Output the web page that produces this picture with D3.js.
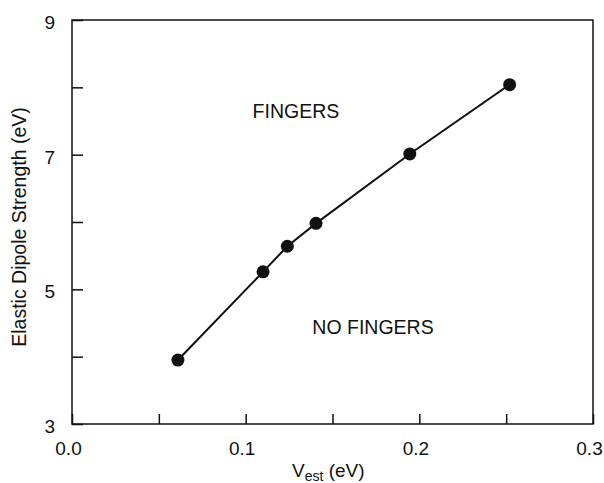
<!DOCTYPE html>
<html>
<head>
<meta charset="utf-8">
<script src="https://cdn.jsdelivr.net/npm/d3@7"></script>
<style>
body { margin: 0; background: #fff; }
text { font-family: "Liberation Sans", Arial, Helvetica, sans-serif; fill: #111; }
</style>
</head>
<body>
<svg width="604" height="483"></svg>
<script>
// values
var vest = [0.061, 0.110, 0.124, 0.1405, 0.1945, 0.252];
var dipole = [3.95, 5.26, 5.64, 5.98, 7.01, 8.04];

var xTicks = [0, 0.05, 0.1, 0.15, 0.2, 0.25, 0.3];
var xLabels = [0, 0.1, 0.2, 0.3];
var yTicks = [3, 4, 5, 6, 7, 8, 9];
var yLabels = [3, 5, 7, 9];

var svg = d3.select("svg"),
    width = +svg.attr("width"),
    height = +svg.attr("height");

var margin = {top: 20, right: 11, bottom: 59, left: 72};

var x = d3.scaleLinear().domain([0, 0.3]).range([margin.left, width - margin.right]);
var y = d3.scaleLinear().domain([3, 9]).range([height - margin.bottom, margin.top]);

var pts = vest.map(function(v, i) { return {x: v, y: dipole[i]}; });

// frame
svg.append("rect")
    .attr("x", x(0))
    .attr("y", y(9))
    .attr("width", x(0.3) - x(0))
    .attr("height", y(3) - y(9))
    .attr("fill", "none")
    .attr("stroke", "#111")
    .attr("stroke-width", 1.5);

// bottom axis, ticks pointing in
var xAxis = svg.append("g")
    .attr("transform", "translate(0," + y(3) + ")")
    .call(d3.axisBottom(x)
        .tickValues(xTicks)
        .tickSizeInner(-10)
        .tickSizeOuter(0)
        .tickPadding(18)
        .tickFormat(function(d) {
          return xLabels.some(function(l) { return Math.abs(l - d) < 1e-9; }) ? d3.format(".1f")(d) : "";
        }));
xAxis.select(".domain").remove();
xAxis.selectAll("line").attr("stroke", "#111").attr("stroke-width", 1.5);
xAxis.selectAll("text")
    .attr("font-size", 19)
    .attr("dx", -4)
    .style("font-family", "'Liberation Sans', Arial, sans-serif");

// left axis
var yAxis = svg.append("g")
    .attr("transform", "translate(" + x(0) + ",0)")
    .call(d3.axisLeft(y)
        .tickValues(yTicks)
        .tickSizeInner(-11)
        .tickSizeOuter(0)
        .tickPadding(17)
        .tickFormat(function(d) { return yLabels.indexOf(d) >= 0 ? d : ""; }));
yAxis.select(".domain").remove();
yAxis.selectAll("line").attr("stroke", "#111").attr("stroke-width", 1.5);
yAxis.selectAll("text")
    .attr("font-size", 19)
    .attr("dy", "0.45em")
    .style("font-family", "'Liberation Sans', Arial, sans-serif");

// curve
var line = d3.line()
    .x(function(d) { return x(d.x); })
    .y(function(d) { return y(d.y); });

svg.append("path")
    .datum(pts)
    .attr("d", line)
    .attr("fill", "none")
    .attr("stroke", "#111")
    .attr("stroke-width", 2);

svg.append("g")
    .selectAll("circle")
    .data(pts)
    .enter().append("circle")
    .attr("cx", function(d) { return x(d.x); })
    .attr("cy", function(d) { return y(d.y); })
    .attr("r", 6.5)
    .attr("fill", "#111");

// region labels
svg.append("text")
    .attr("x", x(0.104))
    .attr("y", y(7.54))
    .attr("font-size", 19.5)
    .text("FINGERS");

svg.append("text")
    .attr("x", x(0.1384))
    .attr("y", y(4.33))
    .attr("font-size", 19.5)
    .text("NO FINGERS");

// axis titles
svg.append("text")
    .attr("transform", "translate(26," + 227 + ") rotate(-90)")
    .attr("text-anchor", "middle")
    .attr("font-size", 19.5)
    .text("Elastic Dipole Strength (eV)");

var xt = svg.append("text")
    .attr("x", 292)
    .attr("y", 477)
    .attr("font-size", 19);
xt.append("tspan").text("V");
xt.append("tspan").attr("dy", 4).attr("font-size", 14).text("est");
xt.append("tspan").attr("dy", -4).text(" (eV)");
</script>
</body>
</html>
